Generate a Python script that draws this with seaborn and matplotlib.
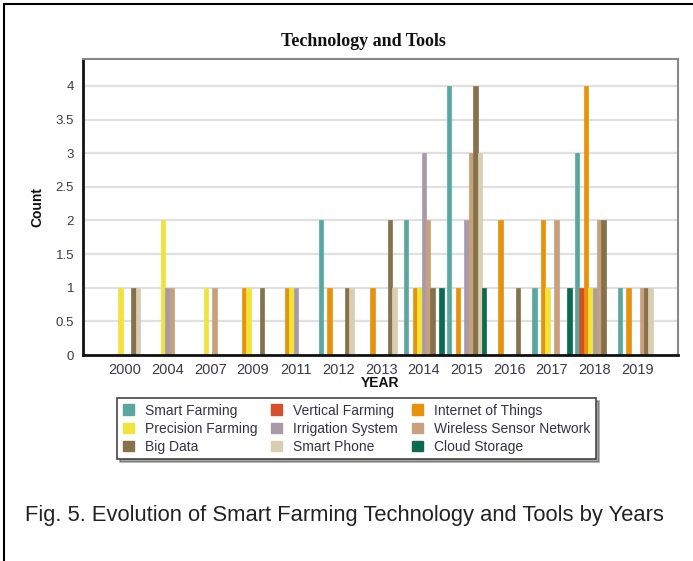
import matplotlib
matplotlib.use("Agg")
import matplotlib.pyplot as plt
from matplotlib.lines import Line2D
from matplotlib.patches import Patch
import seaborn as sns
import pandas as pd

years = ["2000", "2004", "2007", "2009", "2011", "2012", "2013",
         "2014", "2015", "2016", "2017", "2018", "2019"]
techs = ["Smart Farming", "Vertical Farming", "Internet of Things",
         "Precision Farming", "Irrigation System", "Wireless Sensor Network",
         "Big Data", "Smart Phone", "Cloud Storage"]
smart_farming =      [0, 0, 0, 0, 0, 2, 0, 2, 4, 0, 1, 3, 1]
vertical_farming =   [0, 0, 0, 0, 0, 0, 0, 0, 0, 0, 0, 1, 0]
internet_of_things = [0, 0, 0, 1, 1, 1, 1, 1, 1, 2, 2, 4, 1]
precision_farming =  [1, 2, 1, 1, 1, 0, 0, 1, 0, 0, 1, 1, 0]
irrigation_system =  [0, 1, 0, 0, 1, 0, 0, 3, 2, 0, 0, 1, 0]
wireless_sensor =    [0, 1, 1, 0, 0, 0, 0, 2, 3, 0, 2, 2, 1]
big_data =           [1, 0, 0, 1, 0, 1, 2, 1, 4, 1, 0, 2, 1]
smart_phone =        [1, 0, 0, 0, 0, 1, 1, 0, 3, 0, 0, 0, 1]
cloud_storage =      [0, 0, 0, 0, 0, 0, 0, 1, 1, 0, 1, 0, 0]
yticks = [0, 0.5, 1, 1.5, 2, 2.5, 3, 3.5, 4]
ytick_labels = ["0", "0.5", "1", "1.5", "2", "2.5", "3", "3.5", "4"]

colors = ["#5AA79F", "#D4502A", "#E8920C", "#F0E33C", "#A99AA7",
          "#C8A07C", "#86714B", "#D9CDB2", "#0B6A50"]

series = [smart_farming, vertical_farming, internet_of_things, precision_farming,
          irrigation_system, wireless_sensor, big_data, smart_phone, cloud_storage]
rows = []
for t, vals in zip(techs, series):
    for y, v in zip(years, vals):
        rows.append({"YEAR": y, "Count": v, "Tech": t})
df = pd.DataFrame(rows)

sns.set_style("white")
plt.rcParams["font.family"] = ["Liberation Sans", "DejaVu Sans"]

W, H = 693, 561
fig = plt.figure(figsize=(W / 100, H / 100), dpi=100)
ax = fig.add_axes([83 / W, 1 - 355 / H, (678 - 83) / W, (355 - 59) / H])

sns.barplot(data=df, x="YEAR", y="Count", hue="Tech", order=years,
            hue_order=techs, palette=colors, width=0.93, gap=0,
            ax=ax, legend=False, errorbar=None, saturation=1)
for p in ax.patches:
    p.set_edgecolor(p.get_facecolor())
    p.set_linewidth(0.5)

ax.set_xlim(-0.98, 12.95)
ax.set_ylim(0, 4.4)
ax.set_yticks(yticks)
ax.set_yticklabels(ytick_labels)
for y in yticks[1:]:
    ax.axhline(y, color="#E0E0E0", lw=1.6, zorder=0)
ax.set_axisbelow(True)

tick_col = "#3a3a4a"
ax.tick_params(axis="both", colors=tick_col, labelsize=9.5, length=3, width=0.8,
               direction="out")
ax.tick_params(axis="x", labelsize=10.5, pad=3)
ax.set_xlabel("YEAR", fontsize=10, fontweight="bold", color="#111111", labelpad=-1)
ax.set_ylabel("Count", fontsize=10, fontweight="bold", color="#111111", labelpad=8)

for s in ["left", "bottom"]:
    ax.spines[s].set_color("#111111")
    ax.spines[s].set_linewidth(2)
for s in ["top", "right"]:
    ax.spines[s].set_color("#888888")
    ax.spines[s].set_linewidth(1.5)

fig.text(363 / W, 1 - 42 / H, "Technology and Tools", ha="center", va="center",
         fontsize=13, fontweight="bold", family=["Liberation Serif", "DejaVu Serif"],
         color="#111111")

# legend: row-wise order as in the reference
order = [0, 3, 6, 1, 4, 7, 2, 5, 8]
handles = [Patch(facecolor=colors[i], edgecolor=colors[i]) for i in order]
labels = [techs[i] for i in order]
leg = fig.legend(handles, labels, ncol=3, loc="upper left",
                 bbox_to_anchor=(117 / W, 1 - 398 / H),
                 fontsize=10, frameon=True, fancybox=False,
                 shadow=True, handlelength=0.8, handleheight=0.8,
                 handletextpad=0.8, borderpad=0.4, labelspacing=0.3,
                 columnspacing=1.0, borderaxespad=0)
leg.get_frame().set_edgecolor("#444444")
leg.get_frame().set_linewidth(1.2)
for t in leg.get_texts():
    t.set_color("#333344")

fig.text(25 / W, 1 - 516 / H,
         "Fig. 5. Evolution of Smart Farming Technology and Tools by Years",
         ha="left", va="center", fontsize=15.8, color="#222222")

# outer frame (cropped at right and bottom)
fig.add_artist(Line2D([4 / W, 4 / W], [0, 1 - 4 / H], color="black", lw=1.5,
                      transform=fig.transFigure))
fig.add_artist(Line2D([4 / W, 1], [1 - 4 / H, 1 - 4 / H], color="black", lw=1.5,
                      transform=fig.transFigure))

fig.savefig("out.png", dpi=100)
